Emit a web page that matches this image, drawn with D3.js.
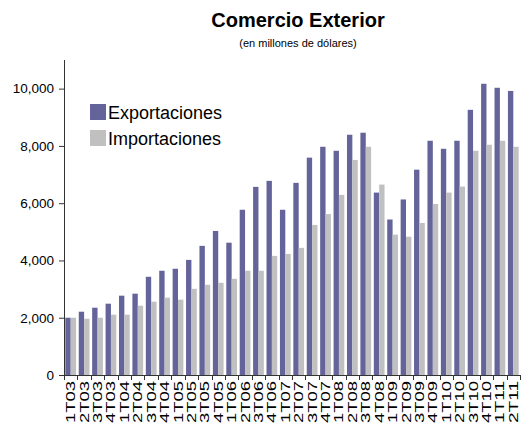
<!DOCTYPE html>
<html>
<head>
<meta charset="utf-8">
<script src="https://cdn.jsdelivr.net/npm/d3@7"></script>
<style>
  html, body { margin: 0; padding: 0; background: #fff; }
  text { font-family: "Liberation Sans", Arial, sans-serif; }
</style>
</head>
<body>
<svg id="chart" width="526" height="425"></svg>
<script>
const categories = ["1T03","2T03","3T03","4T03","1T04","2T04","3T04","4T04",
  "1T05","2T05","3T05","4T05","1T06","2T06","3T06","4T06",
  "1T07","2T07","3T07","4T07","1T08","2T08","3T08","4T08",
  "1T09","2T09","3T09","4T09","1T10","2T10","3T10","4T10",
  "1T11","2T11"];
const exportaciones = [2000,2210,2350,2490,2770,2840,3430,3640,
  3710,4020,4510,5030,4620,5770,6570,6780,
  5770,6710,7590,7970,7830,8390,8460,6370,
  5430,6130,7170,8180,7900,8180,9260,10170,
  10030,9920];
const importaciones = [2000,1965,2000,2105,2105,2420,2560,2700,
  2630,3010,3150,3220,3360,3640,3640,4160,
  4230,4440,5240,5620,6290,7510,7970,6650,
  4900,4830,5310,5970,6370,6580,7830,8040,
  8180,7970];
const yTicks = [0,2000,4000,6000,8000,10000];
const seriesNames = ["Exportaciones","Importaciones"];
const colors = ["#64649a","#c0c0c0"];

const svg = d3.select("#chart");
const mLeft = 64, mRight = 520, mTop = 60, mBottom = 375;

const x = d3.scaleBand().domain(categories).range([mLeft, mRight])
  .paddingInner(0.2).paddingOuter(0.1);
const xs = d3.scaleBand().domain([0,1]).range([0, x.bandwidth()]);
const y = d3.scaleLinear().domain([0, 11000]).range([mBottom, mTop]);

// bars
const data = categories.map((c,i) => ({c, v:[exportaciones[i], importaciones[i]]}));
const g = svg.append("g");
data.forEach(d => {
  d.v.forEach((v,k) => {
    g.append("rect")
      .attr("x", x(d.c) + xs(k))
      .attr("y", y(v))
      .attr("width", xs.bandwidth())
      .attr("height", y(0) - y(v))
      .attr("fill", colors[k]);
  });
});

// y axis
const yAxis = svg.append("g").attr("transform", `translate(${mLeft},0)`)
  .call(d3.axisLeft(y).tickValues(yTicks).tickSize(5).tickPadding(5)
    .tickFormat(d3.format(",")));
yAxis.select(".domain").attr("stroke", "#333").attr("d", `M0.5,${mTop}V${mBottom}`);
yAxis.selectAll(".tick line").attr("stroke", "#333");
yAxis.selectAll(".tick text").attr("font-size", 13.5).attr("fill", "#000")
  .attr("font-family", "'Liberation Sans', Arial, sans-serif");

// x axis line
svg.append("line").attr("x1", mLeft).attr("x2", mRight)
  .attr("y1", mBottom + 0.5).attr("y2", mBottom + 0.5)
  .attr("stroke", "#333");

// boundary ticks
const step = x.step();
const bounds = d3.range(categories.length + 1).map(i => x.range()[0] + i * step);
svg.append("g").selectAll("line").data(bounds).join("line")
  .attr("x1", d => Math.round(d) + 0.5).attr("x2", d => Math.round(d) + 0.5)
  .attr("y1", mBottom).attr("y2", mBottom + 5)
  .attr("stroke", "#333");

// x labels
svg.append("g").selectAll("text").data(categories).join("text")
  .attr("transform", d => `translate(${x(d) + x.bandwidth()/2 + 4.5},${mBottom + 6}) rotate(-90)`)
  .attr("text-anchor", "end")
  .attr("font-size", 12)
  .attr("textLength", 42)
  .attr("lengthAdjust", "spacingAndGlyphs")
  .attr("fill", "#000")
  .text(d => d);

// legend
const legend = svg.append("g");
seriesNames.forEach((n,k) => {
  legend.append("rect").attr("x", 90).attr("y", 104 + k*26)
    .attr("width", 16).attr("height", 16).attr("fill", colors[k]);
  legend.append("text").attr("x", 108).attr("y", 119 + k*26)
    .attr("font-size", 18).attr("fill", "#000").text(n);
});

// title
svg.append("text").attr("x", 298).attr("y", 27).attr("text-anchor", "middle")
  .attr("font-size", 20).attr("font-weight", "bold").text("Comercio Exterior");
svg.append("text").attr("x", 298).attr("y", 47).attr("text-anchor", "middle")
  .attr("font-size", 11).text("(en millones de dólares)");
</script>
</body>
</html>
